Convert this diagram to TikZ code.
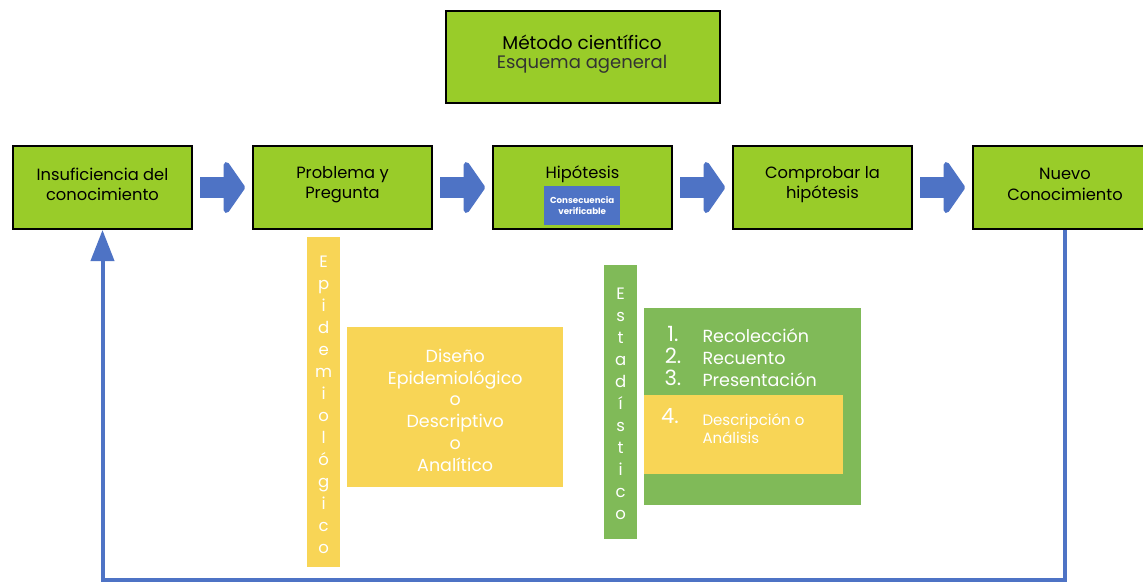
\documentclass[tikz,border=0pt]{standalone}
\usepackage{fontspec}
\setmainfont{Poppins}
\usetikzlibrary{arrows.meta,calc}
\definecolor{limeg}{HTML}{99CC29}
\definecolor{bblue}{HTML}{4E73C5}
\definecolor{yel}{HTML}{F8D556}
\definecolor{grn}{HTML}{80BA58}
\definecolor{dgray}{HTML}{333333}
\begin{document}
\begin{tikzpicture}[x=1pt,y=-1pt,
  mainbox/.style={draw=black,line width=2pt,fill=limeg,minimum width=179pt,minimum height=83pt,anchor=north west,inner sep=0pt},
  boxtext/.style={align=center,font=\fontsize{16.3}{20.5}\selectfont,text=black},
  blockarrow/.style={line width=21pt,draw=bblue,-{Triangle[length=22pt,width=62pt,round]},shorten <=7pt,shorten >=7pt},
  feedback/.style={line width=4pt,draw=bblue,-{Triangle[length=31pt,width=23pt]}},
  vbar/.style={anchor=north west,minimum width=33pt,inner sep=0pt},
  vtext/.style={align=center,text=white,font=\fontsize{16.5}{22}\selectfont},
  whitetext/.style={text=white,font=\fontsize{17.5}{20}\selectfont}
]
\useasboundingbox (0,0) rectangle (1143,581);
\fill[white] (0,0) rectangle (1143,581);

% title
\node[draw=black,line width=2pt,fill=limeg,minimum width=274pt,minimum height=92pt,anchor=north west] (title) at (445,10) {};
\node[font=\fontsize{18.5}{20}\selectfont] (t1) at (582,42) {Método científico};
\node[font=\fontsize{18}{20}\selectfont,text=dgray] (t2) at (582,64) {Esquema ageneral};

% main row
\node[mainbox] (n1) at (12,145) {};
\node[mainbox] (n2) at (252,145) {};
\node[mainbox] (n3) at (492,145) {};
\node[mainbox] (n4) at (732,145) {};
\node[mainbox,minimum width=184pt] (n5) at (972,145) {};

\node[boxtext] (l1) at ($(n1.center)+(0,-3)$) {Insuficiencia del\\conocimiento};
\node[boxtext] (l2) at ($(n2.center)+(0,-3)$) {Problema y\\Pregunta};
\node[boxtext] (l3) at ($(n3.center)+(0,-13)$) {Hipótesis};
\node[boxtext] (l4) at ($(n4.center)+(0,-3)$) {Comprobar la\\hipótesis};
\node[boxtext] (l5) at ($(n5.center)+(0,-3)$) {Nuevo\\Conocimiento};

\node[fill=bblue,minimum width=76pt,minimum height=39pt,anchor=north west,inner sep=0pt,align=center,text=white,font=\bfseries\fontsize{8.7}{11}\selectfont] (cv) at (544,186) {Consecuencia\\verificable};

% block arrows
\draw[blockarrow] (n1.east) -- (n2.west);
\draw[blockarrow] (n2.east) -- (n3.west);
\draw[blockarrow] (n3.east) -- (n4.west);
\draw[blockarrow] (n4.east) -- (n5.west);

% feedback
\draw[feedback] (n5.south) -- ++(0,350) -| (n1.south);

% epidemiologico
\node[vbar,fill=yel,minimum height=330pt] (epi) at (307,237) {};
\node[vtext] (epit) at ($(epi.center)+(0,3)$) {E\\p\\i\\d\\e\\m\\i\\o\\l\\ó\\g\\i\\c\\o};
\node[fill=yel,minimum width=216pt,minimum height=160pt,anchor=north west,inner sep=0pt] (dis) at (347,327) {};
\node[whitetext,align=center,font=\fontsize{17.5}{21.8}\selectfont] (dist) at ($(dis.center)+(0,3)$) {Diseño\\Epidemiológico\\o\\Descriptivo\\o\\Analítico};

% estadistico
\node[vbar,fill=grn,minimum height=274pt] (est) at (604,265) {};
\node[vtext] (estt) at ($(est.center)+(0,2)$) {E\\s\\t\\a\\d\\í\\s\\t\\i\\c\\o};
\node[fill=grn,minimum width=217pt,minimum height=197pt,anchor=north west,inner sep=0pt] (pasos) at (644,308) {};
\node[fill=yel,minimum width=199pt,minimum height=79pt,anchor=north west,inner sep=0pt] (desc) at (644,395) {};

\node[whitetext,font=\fontsize{21}{20}\selectfont] (k1) at (673,334) {1.};
\node[whitetext,font=\fontsize{21}{20}\selectfont] (k2) at (673,356) {2.};
\node[whitetext,font=\fontsize{21}{20}\selectfont] (k3) at (673,378) {3.};
\node[whitetext,font=\fontsize{21}{20}\selectfont] (k4) at (670,416) {4.};
\node[whitetext,anchor=west] (r1) at (699,336) {Recolección};
\node[whitetext,anchor=west] (r2) at (699,358) {Recuento};
\node[whitetext,anchor=west] (r3) at (699,380) {Presentación};
\node[whitetext,anchor=west,align=left,font=\fontsize{15}{18}\selectfont] (r4) at (699,429) {Descripción o\\Análisis};
\end{tikzpicture}
\end{document}
